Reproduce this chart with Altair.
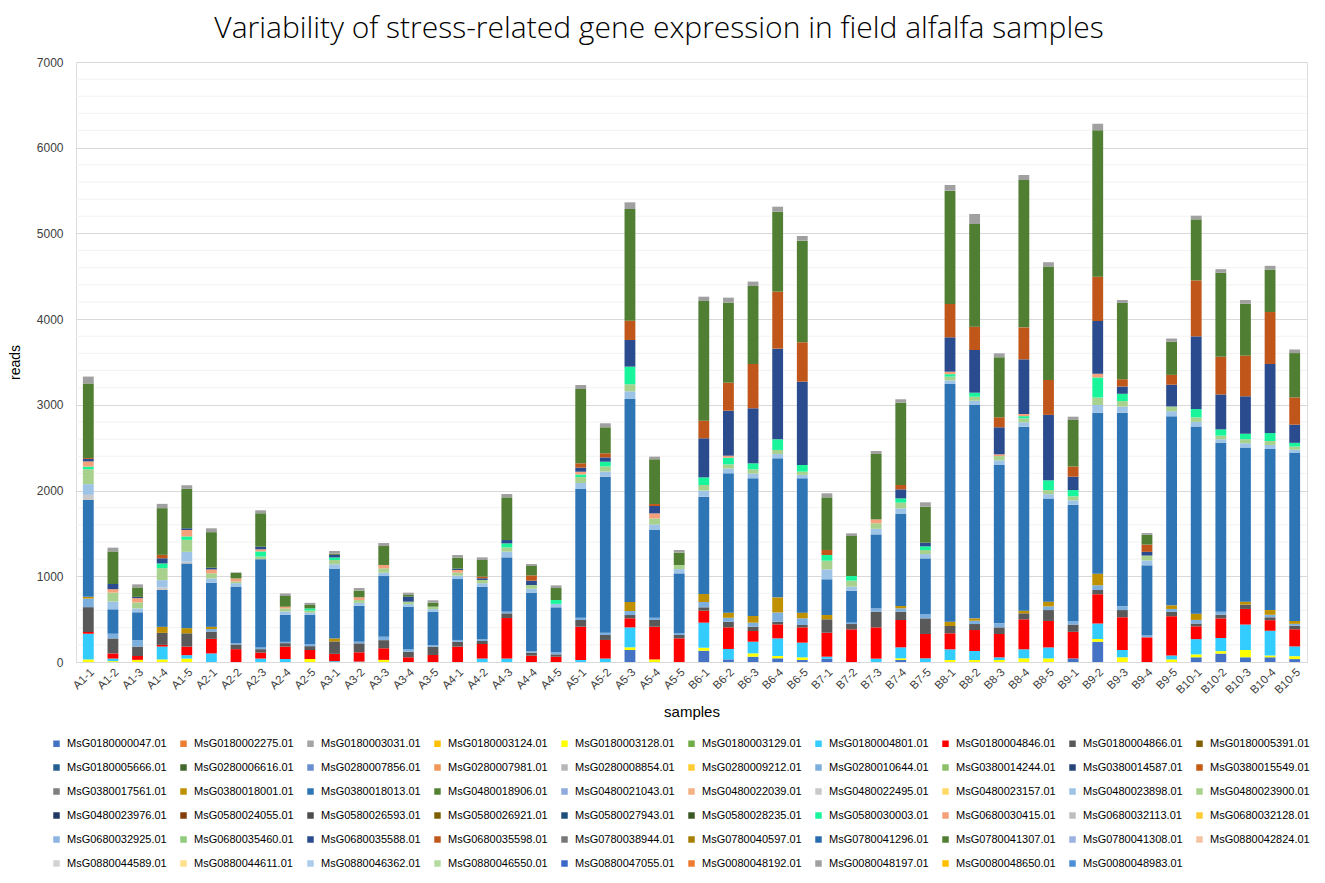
import altair as alt
import pandas as pd

samples = ["A1-1","A1-2","A1-3","A1-4","A1-5","A2-1","A2-2","A2-3","A2-4","A2-5",
           "A3-1","A3-2","A3-3","A3-4","A3-5","A4-1","A4-2","A4-3","A4-4","A4-5",
           "A5-1","A5-2","A5-3","A5-4","A5-5","B6-1","B6-2","B6-3","B6-4","B6-5",
           "B7-1","B7-2","B7-3","B7-4","B7-5","B8-1","B8-2","B8-3","B8-4","B8-5",
           "B9-1","B9-2","B9-3","B9-4","B9-5","B10-1","B10-2","B10-3","B10-4","B10-5"]

genes = ["MsG0180000047.01","MsG0180002275.01","MsG0180003031.01","MsG0180003124.01","MsG0180003128.01",
         "MsG0180003129.01","MsG0180004801.01","MsG0180004846.01","MsG0180004866.01","MsG0180005391.01",
         "MsG0180005666.01","MsG0280006616.01","MsG0280007856.01","MsG0280007981.01","MsG0280008854.01",
         "MsG0280009212.01","MsG0280010644.01","MsG0380014244.01","MsG0380014587.01","MsG0380015549.01",
         "MsG0380017561.01","MsG0380018001.01","MsG0380018013.01","MsG0480018906.01","MsG0480021043.01",
         "MsG0480022039.01","MsG0480022495.01","MsG0480023157.01","MsG0480023898.01","MsG0480023900.01",
         "MsG0480023976.01","MsG0580024055.01","MsG0580026593.01","MsG0580026921.01","MsG0580027943.01",
         "MsG0580028235.01","MsG0580030003.01","MsG0680030415.01","MsG0680032113.01","MsG0680032128.01",
         "MsG0680032925.01","MsG0680035460.01","MsG0680035588.01","MsG0680035598.01","MsG0780038944.01",
         "MsG0780040597.01","MsG0780041296.01","MsG0780041307.01","MsG0780041308.01","MsG0880042824.01",
         "MsG0880044589.01","MsG0880044611.01","MsG0880046362.01","MsG0880046550.01","MsG0880047055.01",
         "MsG0080048192.01","MsG0080048197.01","MsG0080048650.01","MsG0080048983.01"]

colors = ["#4472C4","#ED7D31","#A5A5A5","#FFC000","#FFFF00",
          "#70AD47","#33CCFF","#FF0000","#595959","#806000",
          "#255E91","#43682B","#698ED0","#F1975A","#B7B7B7",
          "#FFCD33","#7CAFDD","#8CC168","#264478","#C55A11",
          "#7F7F7F","#BF9000","#2E75B6","#548235","#8FAADC",
          "#F4B183","#C9C9C9","#FFD966","#9DC3E6","#A9D18E",
          "#203864","#843C0C","#4D4D4D","#7F6000","#1F4E79",
          "#385723","#19F59B","#F4A07A","#BFBFBF","#FFCC33",
          "#8DB4E2","#8FCB7B","#2A4B8D","#C0561A","#777777",
          "#A67F00","#2A6BB0","#507E32","#9BB1E2","#F6C2A2",
          "#D3D3D3","#FFE08C","#ADCBEA","#B5DBA0","#3A68C8",
          "#EE7C30","#A0A0A0","#FFC000","#4A8FD6"]

# reads per sample (order as in `samples`)
g0047  = [0,0,0,0,0, 0,0,0,0,0, 0,0,0,0,0, 0,0,0,0,0, 0,0,140,0,0, 132,31,62,43,23, 39,0,0,23,0, 0,0,0,0,0, 42,237,0,0,0, 55,98,55,55,34]
g3128  = [30,10,25,30,40, 0,0,0,0,35, 0,0,25,0,0, 0,0,0,0,0, 0,0,31,30,0, 35,0,39,27,31, 0,0,0,20,0, 23,23,23,43,42, 0,30,55,0,30, 34,29,85,21,34]
g4801  = [300,30,0,150,40, 100,0,40,35,0, 10,5,0,0,0, 0,40,40,0,0, 23,40,233,0,0, 292,121,136,206,172, 23,0,39,128,43, 125,105,31,105,128, 0,182,85,0,46, 178,153,297,289,114]
g4846  = [20,60,45,20,100, 170,150,70,145,105, 85,108,135,55,82, 179,170,473,74,62, 389,217,106,382,276, 140,252,125,163,178, 280,381,365,319,284, 187,245,273,350,309, 310,340,382,288,458, 149,229,182,123,200]
g4866  = [290,175,110,140,155, 85,55,40,40,45, 145,105,95,65,97, 58,35,55,35,27, 78,58,38,78,39, 39,66,50,31,28, 156,62,183,97,182, 85,70,77,70,127, 85,51,84,0,51, 33,42,51,34,42]
g10644 = [100,55,75,0,0, 30,15,20,15,25, 0,19,40,28,19, 20,20,19,15,24, 27,27,47,27,19, 62,46,47,108,78, 0,16,39,39,51, 0,39,47,0,43, 42,55,43,22,34, 42,34,0,29,21]
g18001 = [20,0,0,70,60, 25,0,0,0,0, 35,0,0,0,0, 0,0,0,0,0, 0,0,105,0,0, 93,59,78,176,66, 50,0,0,27,0, 50,27,0,31,55, 0,135,0,0,42, 73,0,34,55,34]
g18013 = [1130,285,325,430,755, 515,660,1030,315,340, 815,420,708,497,389, 711,614,634,685,525, 1501,1820,2368,1023,700, 1136,1626,1606,1622,1567, 417,373,863,1074,649, 2773,2489,1847,2147,1204, 1357,1879,2260,818,2205, 2184,1972,1798,1879,1959]
g22495 = [60,0,0,30,20, 0,0,0,0,0, 0,0,0,0,0, 0,0,0,0,0, 0,0,0,0,0, 0,0,0,0,0, 0,0,0,0,0, 0,0,0,0,0, 0,0,0,0,0, 0,0,0,0,0]
g23898 = [125,90,45,85,115, 50,40,0,40,25, 50,33,39,30,30, 40,40,66,45,40, 70,60,90,65,50, 70,55,55,50,40, 116,47,65,66,50, 43,50,55,50,50, 50,90,70,57,60, 53,42,50,47,38]
g23900 = [175,105,70,140,140, 60,20,30,35,25, 50,33,51,29,29, 35,38,50,44,0, 70,60,82,70,48, 66,50,50,48,38, 101,70,64,66,47, 43,47,50,47,48, 47,88,65,57,55, 53,42,47,46,38]
g30003 = [30,0,0,55,40, 0,0,60,0,25, 30,0,0,0,0, 0,0,47,0,45, 30,55,206,0,0, 89,78,70,124,77, 66,54,0,50,43, 29,47,0,25,114, 73,233,85,0,0, 97,73,64,93,43]
g30415 = [60,40,50,0,75, 45,35,25,20,0, 0,32,39,0,0, 30,0,0,0,0, 32,0,0,59,0, 0,23,0,0,0, 0,0,46,0,0, 29,0,20,25,0, 0,42,0,0,0, 0,0,0,0,0]
g35588 = [30,60,15,60,20, 20,0,30,0,0, 30,0,0,58,0, 16,20,39,51,0, 48,50,311,86,0, 456,525,642,1058,973, 0,0,0,105,43, 401,498,315,638,763, 156,615,85,43,254, 848,407,437,806,212]
g35598 = [10,0,0,40,0, 0,0,0,0,0, 0,0,0,0,0, 0,19,0,62,0, 50,48,225,23,0, 206,327,517,665,459, 59,0,0,51,0, 389,272,117,373,407, 119,517,85,85,115, 653,441,474,606,318]
g41307 = [870,380,110,545,460, 415,65,390,125,40, 15,78,221,20,46, 128,194,498,109,140, 867,303,1303,522,144, 1396,933,910,933,1186, 614,467,763,961,420, 1322,1198,700,1719,1323, 543,1709,890,114,386, 712,979,607,496,517]
g48197 = [80,44,36,50,42, 45,6,35,30,25, 30,30,35,27,28, 31,31,39,23,31, 47,47,78,31,31, 50,59,51,58,54, 47,31,35,39,51, 66,117,46,59,51, 38,77,34,21,38, 43,42,42,43,42]

series = {
    "MsG0180000047.01": g0047, "MsG0180003128.01": g3128, "MsG0180004801.01": g4801,
    "MsG0180004846.01": g4846, "MsG0180004866.01": g4866, "MsG0280010644.01": g10644,
    "MsG0380018001.01": g18001, "MsG0380018013.01": g18013, "MsG0480022495.01": g22495,
    "MsG0480023898.01": g23898, "MsG0480023900.01": g23900, "MsG0580030003.01": g30003,
    "MsG0680030415.01": g30415, "MsG0680035588.01": g35588, "MsG0680035598.01": g35598,
    "MsG0780041307.01": g41307, "MsG0080048197.01": g48197,
}

rows = []
for gi, g in enumerate(genes):
    vals = series.get(g)
    if vals is None:
        continue
    for s, v in zip(samples, vals):
        if v > 0:
            rows.append({"sample": s, "gene": g, "reads": v, "ord": gi})
df = pd.DataFrame(rows)

major = list(range(0, 7001, 1000))
minor = [v for v in range(200, 7000, 200) if v % 1000 != 0]
grid_df = pd.DataFrame({"reads": minor})

yscale = alt.Scale(domain=[0, 7000], nice=False)
yaxis = alt.Axis(values=major, title="reads", grid=True, gridColor="#D9D9D9",
                 domain=False, ticks=False, labelPadding=13, labelFontSize=12,
                 labelColor="#404040", labelFont="Liberation Sans", format="d",
                 titleFont="Liberation Sans", titleFontSize=14, titleFontWeight="normal",
                 titleColor="#000000", titleX=-54, titleY=300)

minor_rules = alt.Chart(grid_df).mark_rule(color="#F2F2F2", strokeWidth=1).encode(
    y=alt.Y("reads:Q", scale=yscale, axis=yaxis)
)

bars = alt.Chart(df).mark_bar().encode(
    x=alt.X("sample:N", sort=samples,
            scale=alt.Scale(paddingInner=0.56, paddingOuter=0.28),
            axis=alt.Axis(title="samples", labelAngle=315, labelFontSize=11.5,
                          labelFont="Liberation Sans", labelColor="#404040",
                          ticks=False, domainColor="#D9D9D9", labelPadding=4,
                          titleFont="Liberation Sans", titleFontSize=15,
                          titleFontWeight="normal", titleColor="#000000", titleY=42)),
    y=alt.Y("reads:Q", stack="zero", scale=yscale, axis=yaxis),
    color=alt.Color("gene:N", scale=alt.Scale(domain=genes, range=colors),
                    legend=alt.Legend(title=None, orient="none", legendX=-25, legendY=676,
                                      direction="horizontal",
                                      columns=10, symbolType="square", symbolSize=42,
                                      symbolStrokeWidth=0, labelFont="Liberation Sans",
                                      labelFontSize=11, labelColor="#000000",
                                      labelOffset=5, columnPadding=11, rowPadding=12,
                                      symbolLimit=100, labelLimit=200)),
    order=alt.Order("ord:Q", sort="ascending"),
    tooltip=["sample", "gene", "reads"],
)

chart = alt.layer(minor_rules, bars).properties(
    width=1231, height=600,
    padding={"top": 6, "left": 0, "right": 0, "bottom": 0},
    title=alt.TitleParams("Variability of stress-related gene expression in field alfalfa samples",
                          font="Open Sans", fontSize=30, fontWeight=300, color="#000000",
                          anchor="middle", frame="bounds", offset=12),
).configure_view(stroke=None).configure(background="#FFFFFF")

chart.save("out.html", embed_options={"renderer": "svg", "actions": False})
